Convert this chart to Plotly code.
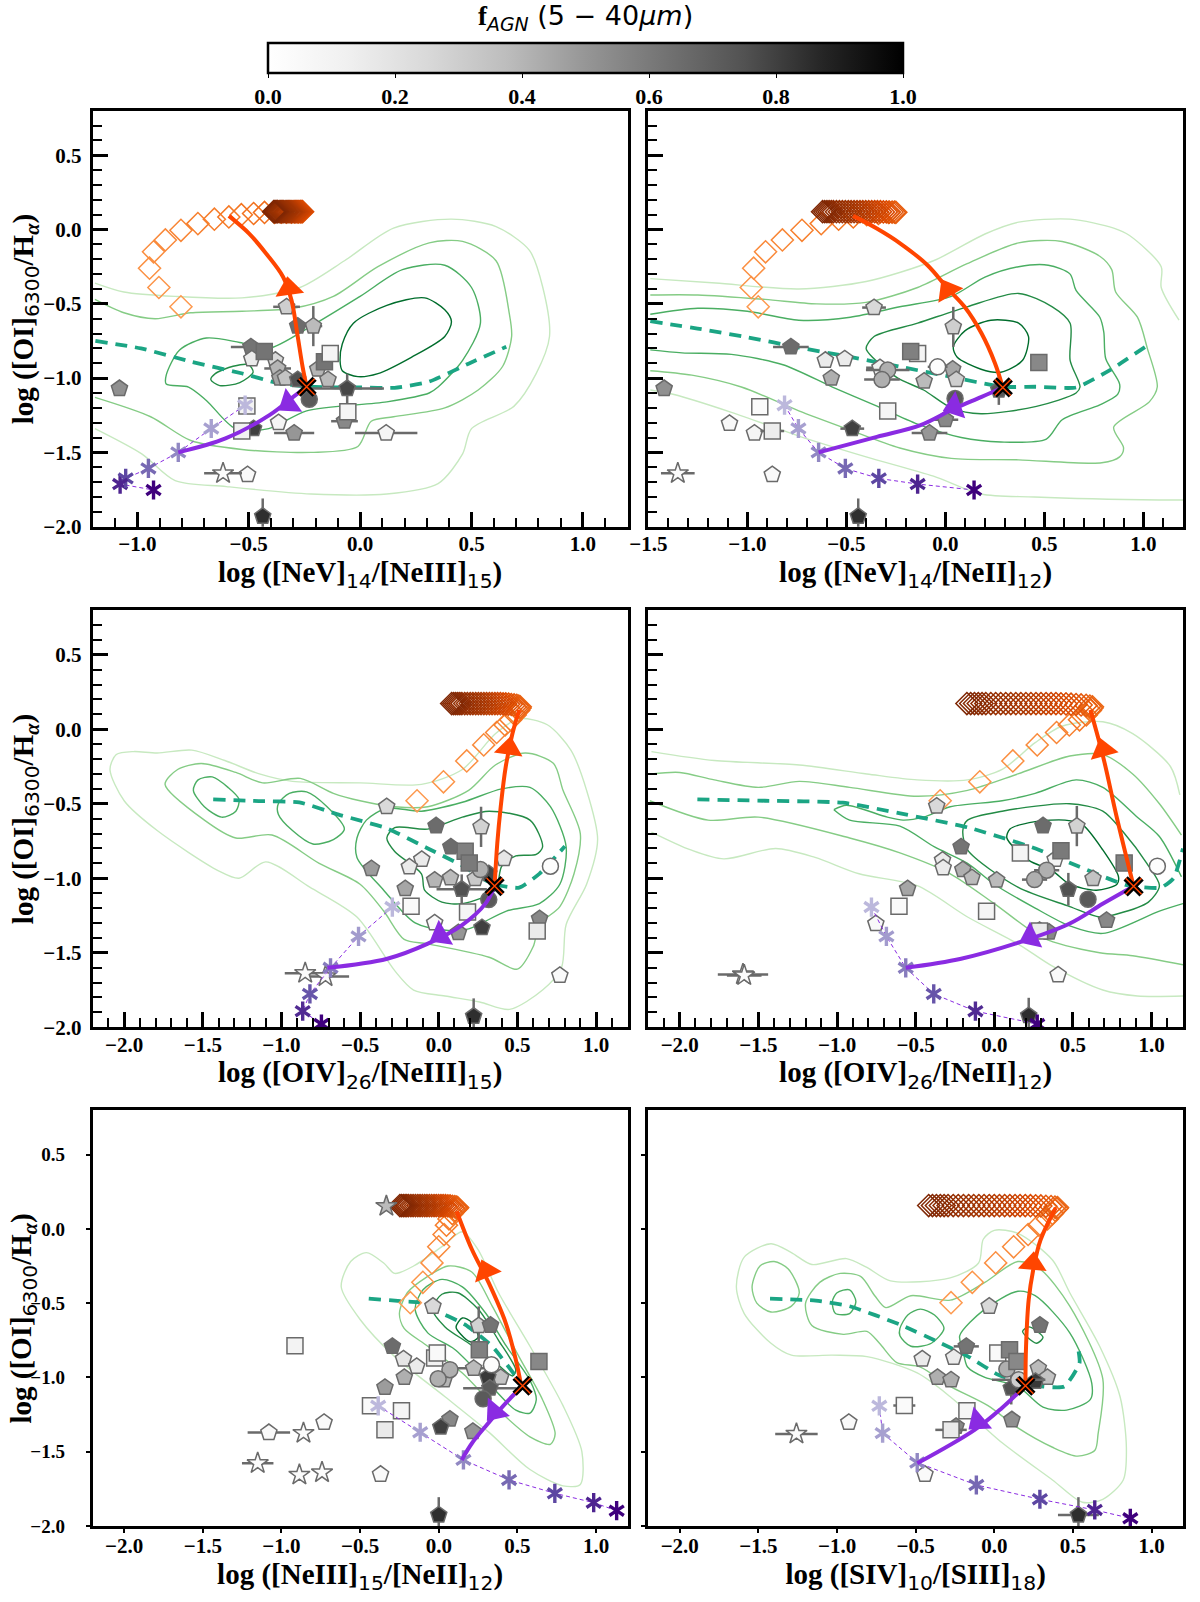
import plotly.graph_objects as go
from plotly.subplots import make_subplots

# ---- diamonds (model track), same y inside a row
dia_y_row1 = [-.52,-.39,-.26,-.15,-.07,-.005,.04,.07,.085,.1,.108,.115,.116,.117,.118,.118,.119,.119,.12,.12,.12,.12,.12,.12,.12,.12,.12,.12,.12,.12,.12,.12,.12,.12,.12,.12,.12,.12,.12,.12,.12,.12,.12,.12,.12,.12,.12]
dia_y_row2 = [-.48,-.353,-.213,-.105,-.022,.029,.063,.096,.126,.141,.15,.155,.16,.163,.166,.168,.17,.171,.172,.172,.172,.172,.172,.172,.172,.172,.172,.172,.172,.172,.172,.172,.172,.172,.172,.172,.172,.172]
dia_y_row3 = [-.497,-.36,-.229,-.121,-.038,.025,.067,.103,.126,.137,.143,.147,.15,.152,.154,.155,.156,.157,.157,.157,.157,.157,.157,.157,.157,.157,.157,.157,.157,.157,.157,.157,.157,.157,.157,.157,.157,.157]
p1_dia_x = [-.804,-.903,-.945,-.927,-.874,-.804,-.728,-.654,-.589,-.533,-.478,-.429,-.384,-.354,-.331,-.308,-.293,-.278,-.267,-.258,-.261,-.265,-.27,-.275,-.28,-.285,-.29,-.296,-.301,-.306,-.311,-.316,-.322,-.327,-.332,-.337,-.343,-.348,-.353,-.358,-.363,-.369,-.372,-.376,-.38,-.384,-.388]
p2_dia_x = [-.945,-.98,-.968,-.908,-.823,-.724,-.627,-.539,-.465,-.397,-.338,-.287,-.25,-.257,-.269,-.283,-.298,-.313,-.328,-.343,-.357,-.372,-.387,-.402,-.417,-.431,-.446,-.461,-.476,-.49,-.505,-.52,-.535,-.55,-.565,-.576,-.587,-.598,-.609,-.62]
p3_dia_x = [-.138,.03,.178,.286,.368,.422,.458,.486,.508,.516,.518,.509,.496,.479,.461,.444,.426,.409,.392,.374,.357,.339,.322,.304,.287,.269,.252,.235,.217,.2,.182,.165,.147,.134,.121,.108,.095,.082]
p4_dia_x = [-.344,-.092,.118,.273,.396,.477,.542,.585,.611,.62,.624,.608,.584,.552,.52,.488,.456,.424,.392,.361,.329,.297,.265,.233,.201,.169,.137,.105,.073,.041,.009,-.022,-.054,-.078,-.102,-.126,-.15,-.174]
p5_dia_x = [-.181,-.101,-.043,0,.034,.049,.065,.086,.103,.115,.12,.113,.102,.087,.072,.058,.043,.028,.014,-.001,-.016,-.03,-.045,-.06,-.075,-.089,-.104,-.119,-.133,-.148,-.163,-.177,-.192,-.203,-.214,-.225,-.236,-.247]
p6_dia_x = [-.275,-.14,.009,.123,.215,.284,.338,.37,.387,.398,.402,.386,.361,.328,.296,.263,.23,.197,.164,.132,.099,.066,.033,0,-.032,-.065,-.098,-.131,-.163,-.196,-.229,-.261,-.294,-.319,-.343,-.368,-.393,-.417]

# ---- purple asterisks
p1_ast_x = [-.516,-.668,-.816,-.95,-1.052,-1.077,-.927]
p1_ast_y = [-1.182,-1.339,-1.5,-1.608,-1.675,-1.713,-1.753]
p2_ast_x = [-.812,-.742,-.64,-.505,-.336,-.14,.145]
p2_ast_y = [-1.182,-1.339,-1.5,-1.608,-1.675,-1.713,-1.753]
p3_ast_x = [-.295,-.51,-.688,-.819,-.865,-.746]
p3_ast_y = [-1.193,-1.39,-1.601,-1.776,-1.892,-1.978]
p4_ast_x = [-.781,-.686,-.563,-.385,-.12,.273]
p4_ast_y = [-1.193,-1.39,-1.601,-1.776,-1.892,-1.978]
p5_ast_x = [-.385,-.118,.157,.447,.738,.985,1.131]
p5_ast_y = [-1.191,-1.369,-1.555,-1.69,-1.78,-1.843,-1.897]
p6_ast_x = [-.731,-.71,-.49,-.114,.29,.639,.865]
p6_ast_y = [-1.191,-1.375,-1.573,-1.724,-1.82,-1.892,-1.948]

# ---- arrows: orange up, purple down, head positions and angle
p1_or_x = [-.24,-.258,-.282,-.308,-.346,-.422,-.498,-.589]
p1_or_y = [-1.058,-.924,-.7,-.475,-.318,-.161,-.027,.092]
p1_pu_x = [-.24,-.3,-.407,-.604,-.816]
p1_pu_y = [-1.058,-1.126,-1.249,-1.406,-1.5]
p2_or_x = [.29,.251,.183,.097,.012,-.09,-.227,-.346,-.466]
p2_or_y = [-1.063,-.901,-.7,-.52,-.397,-.24,-.094,.007,.092]
p2_pu_x = [.29,.183,.046,-.125,-.346,-.64]
p2_pu_y = [-1.063,-1.126,-1.204,-1.316,-1.395,-1.5]
p3_or_x = [.355,.372,.394,.426,.469,.512]
p3_or_y = [-1.052,-.767,-.52,-.251,-.027,.13]
p3_pu_x = [.355,.297,.146,-.069,-.327,-.708]
p3_pu_y = [-1.052,-1.17,-1.316,-1.439,-1.54,-1.601]
p4_or_x = [.886,.778,.692,.611]
p4_or_y = [-1.054,-.587,-.184,.13]
p4_pu_x = [.886,.692,.477,.133,-.211,-.563]
p4_pu_y = [-1.054,-1.17,-1.305,-1.439,-1.54,-1.601]
p5_or_x = [.523,.49,.426,.318,.211,.114]
p5_or_y = [-1.049,-.881,-.634,-.364,-.139,.119]
p5_pu_x = [.533,.426,.297,.211,.146]
p5_pu_y = [-1.056,-1.173,-1.33,-1.443,-1.555]
p6_or_x = [.198,.202,.219,.252,.295,.391]
p6_or_y = [-1.056,-.791,-.476,-.252,-.072,.142]
p6_pu_x = [.198,.047,-.125,-.49]
p6_pu_y = [-1.056,-1.207,-1.353,-1.578]

# (x, y, angle) of arrow heads
p1_heads = [(-.319,-.397,-8), (-.32,-1.17,-125)]
p2_heads = [(.012,-.408,-30), (.046,-1.193,-110)]
p3_heads = [(.447,-.128,8), (.011,-1.383,-120)]
p4_heads = [(.692,-.139,-15), (.23,-1.395,-115)]
p5_heads = [(.301,-.285,-22), (.357,-1.229,-140)]
p6_heads = [(.245,-.234,5), (-.103,-1.297,-130)]

# start of both arrows
p1_cross = (-.24,-1.058)
p2_cross = (.29,-1.063)
p3_cross = (.355,-1.052)
p4_cross = (.886,-1.054)
p5_cross = (.533,-1.056)
p6_cross = (.198,-1.056)

# ---- teal dashed sequence
p1_teal_x = [-1.188,-.983,-.756,-.528,-.376,-.225,.003,.155,.307,.489,.656]
p1_teal_y = [-.749,-.8,-.89,-.969,-1.031,-1.058,-1.063,-1.065,-1.025,-.901,-.789]
p2_teal_x = [-1.49,-1.251,-.995,-.739,-.483,-.227,.029,.285,.456,.66,.831,1.01]
p2_teal_y = [-.617,-.666,-.726,-.794,-.857,-.924,-.991,-1.058,-1.058,-1.063,-.946,-.789]
p3_teal_x = [-1.434,-1.144,-.886,-.628,-.327,-.069,.146,.34,.512,.641,.802]
p3_teal_y = [-.471,-.482,-.491,-.576,-.666,-.8,-.913,-1.036,-1.063,-.969,-.785]
p4_teal_x = [-1.888,-1.458,-.963,-.598,-.168,.262,.542,.843,1.058,1.14,1.2]
p4_teal_y = [-.471,-.48,-.493,-.565,-.659,-.8,-.923,-1.047,-1.063,-1.0,-.8]
p5_teal_x = [-.445,-.219,-.133,.039,.168,.34,.49,.533]
p5_teal_y = [-.47,-.488,-.494,-.578,-.645,-.791,-.993,-1.056]
p6_teal_x = [-1.426,-1.135,-.92,-.598,-.34,-.168,.026,.262,.445,.542,.531]
p6_teal_y = [-.47,-.483,-.521,-.645,-.769,-.858,-.982,-1.056,-1.061,-.903,-.791]

# ---- density contours, None breaks a line
p1_c1_x = [-1.19,-1.06,-.83,-.53,-.27,-.07,.15,.41,.61,.76,.82,.85,.79,.69,.5,.46,.35,.12,-.22,-.6,-.83,-.98,-1.19]
p1_c1_y = [-.36,-.42,-.45,-.46,-.39,-.21,.01,.07,.02,-.14,-.39,-.72,-.97,-1.19,-1.34,-1.51,-1.71,-1.78,-1.78,-1.73,-1.69,-1.51,-1.34]
p1_c2_x = [-1.19,-1.06,-.92,-.76,-.53,-.3,-.12,.08,.31,.46,.61,.67,.68,.64,.53,.38,.15,.05,-.01,-.22,-.53,-.76,-.94,-1.19]
p1_c2_y = [-.47,-.56,-.6,-.56,-.55,-.53,-.45,-.25,-.09,-.08,-.21,-.57,-.72,-.92,-1.08,-1.2,-1.26,-1.29,-1.46,-1.5,-1.48,-1.42,-1.26,-1.13]
p1_c3_x = [-.87,-.81,-.69,-.54,-.41,-.22,0,.19,.38,.5,.54,.46,.35,.31,.12,-.24,-.41,-.56,-.69,-.77,-.87,-.87]
p1_c3_y = [-.98,-.81,-.73,-.76,-.8,-.65,-.45,-.27,-.24,-.39,-.63,-.88,-1.06,-1.1,-1.16,-1.22,-1.34,-1.34,-1.15,-1.06,-1.04,-.98]
p1_c4_x = [-.67,-.65,-.57,-.5,-.48,-.54,-.63,-.67]
p1_c4_y = [-1.01,-.97,-.92,-.91,-.96,-1.03,-1.05,-1.01]
p1_c5_x = [-.09,-.08,-.03,.12,.29,.38,.41,.38,.23,.08,-.01,-.08,-.09]
p1_c5_y = [-.88,-.77,-.63,-.51,-.46,-.54,-.62,-.72,-.86,-.97,-.99,-.95,-.88]

p2_c1_x = [-1.49,-1.16,-.74,-.4,-.06,.2,.37,.63,.85,.93,1.09,1.09,1.18,None,-1.49,-1.37,-1.08,-.74,-.4,-.06,.18,.45,1.08,1.2]
p2_c1_y = [-.33,-.36,-.4,-.35,-.21,-.03,.05,.07,.01,-.04,-.25,-.39,-.61,None,-1.08,-1.11,-1.23,-1.39,-1.53,-1.66,-1.78,-1.8,-1.82,-1.82]
p2_c2_x = [-1.49,-1.25,-.91,-.65,-.4,-.14,.11,.37,.59,.78,.84,.86,.97,1.02,1.07,1.03,.85,.9,.88,.79,.37,.03,-.23,-.5,-.74,-1.03,-1.28,-1.49]
p2_c2_y = [-.44,-.44,-.47,-.5,-.49,-.39,-.23,-.09,-.08,-.18,-.27,-.42,-.59,-.8,-1.06,-1.16,-1.33,-1.47,-1.53,-1.57,-1.55,-1.54,-1.47,-1.34,-1.22,-1.06,-.98,-.95]
p2_c3_x = [-1.49,-1.25,-1,-.74,-.48,-.23,.03,.2,.37,.52,.63,.66,.78,.8,.81,.88,.87,.78,.59,.51,.28,.08,-.14,-.36,-.57,-.82,-1.08,-1.33,-1.49]
p2_c3_y = [-.57,-.53,-.55,-.61,-.59,-.52,-.45,-.32,-.25,-.24,-.3,-.41,-.59,-.69,-.87,-1.04,-1.11,-1.18,-1.28,-1.41,-1.43,-1.4,-1.31,-1.18,-1.06,-.91,-.84,-.83,-.81]
p2_c4_x = [-.4,-.36,-.14,.11,.37,.54,.63,.63,.68,.66,.46,.18,.03,-.11,-.24,-.36,-.4]
p2_c4_y = [-.8,-.72,-.63,-.52,-.43,-.52,-.63,-.88,-1.06,-1.1,-1.19,-1.24,-1.2,-1.08,-1,-.87,-.8]
p2_c5_x = [.04,.1,.23,.37,.42,.39,.28,.18,.06,.04]
p2_c5_y = [-.79,-.68,-.61,-.63,-.72,-.88,-.96,-.94,-.86,-.79]

p3_c1_x = [-2.09,-2.05,-1.94,-1.79,-1.57,-1.36,-1.14,-.93,-.5,-.11,.15,.36,.51,.69,.84,.94,1.01,.94,.81,.78,.66,.45,.26,.04,-.16,-.28,-.52,-.82,-1.1,-1.27,-1.4,-1.79,-2,-2.09]
p3_c1_y = [-.27,-.17,-.15,-.16,-.14,-.21,-.3,-.35,-.36,-.37,-.27,-.03,.07,.03,-.14,-.41,-.74,-1.04,-1.31,-1.6,-1.75,-1.88,-1.83,-1.79,-1.75,-1.62,-1.26,-1.06,-.89,-1,-.95,-.68,-.48,-.27]
p3_c2_x = [-1.74,-1.66,-1.51,-1.29,-1.12,-.88,-.67,-.5,-.28,-.07,.19,.36,.55,.73,.79,.9,.86,.77,.64,.6,.5,.32,-.07,-.22,-.35,-.5,-.76,-1.06,-1.29,-1.49,-1.74]
p3_c2_y = [-.37,-.27,-.23,-.29,-.36,-.33,-.43,-.48,-.52,-.52,-.41,-.24,-.16,-.23,-.41,-.7,-.97,-1.19,-1.31,-1.46,-1.61,-1.53,-1.44,-1.41,-1.22,-1.04,-.9,-.71,-.73,-.61,-.37]
p3_c3_x = [-1.56,-1.53,-1.44,-1.34,-1.27,-1.29,-1.38,-1.49,-1.56,None,-1.02,-.95,-.84,-.71,-.6,-.67,-.8,-.93,-1.02,-1.02,None,-.52,-.46,-.33,-.11,.15,.4,.58,.71,.81,.77,.64,.43,.19,.06,-.15,-.35,-.52,-.52]
p3_c3_y = [-.41,-.34,-.32,-.39,-.47,-.55,-.59,-.52,-.41,None,-.5,-.43,-.42,-.52,-.67,-.74,-.77,-.68,-.57,-.5,None,-.73,-.61,-.53,-.55,-.49,-.4,-.39,-.52,-.79,-1.04,-1.17,-1.22,-1.34,-1.35,-1.3,-1.08,-.86,-.73]
p3_c4_x = [-.33,-.28,-.07,.15,.32,.58,.66,.62,.49,.4,.36,.15,.02,-.09,-.11,-.28,-.33]
p3_c4_y = [-.73,-.66,-.67,-.59,-.55,-.61,-.79,-.84,-.85,-.92,-1.08,-1.17,-1.16,-1.08,-.97,-.82,-.73]

p4_c1_x = [-2.18,-1.78,-1.24,-.81,-.49,-.17,.05,.26,.43,.69,.88,1.12,1.18,None,-2.18,-1.93,-1.72,-1.39,-1.14,-.86,-.49,-.17,.15,.37,.69,.91,1.2]
p4_c1_y = [-.15,-.21,-.24,-.3,-.34,-.34,-.27,-.09,.02,.05,-.03,-.25,-.44,None,-.69,-.81,-.87,-.8,-.86,-.97,-1.05,-1.26,-1.44,-1.59,-1.75,-1.79,-1.79]
p4_c2_x = [-2.18,-2,-1.78,-1.5,-1.24,-.92,-.49,-.17,.15,.48,.69,.88,1.05,1.19,None,1.2,.88,.67,.31,0,-.28,-.6,-.92,-1.5,-1.82,-2.19]
p4_c2_y = [-.3,-.29,-.34,-.39,-.35,-.39,-.45,-.41,-.3,-.18,-.17,-.3,-.5,-.71,None,-1.58,-1.52,-1.5,-1.4,-1.17,-.97,-.83,-.73,-.59,-.61,-.48]
p4_c3_x = [-1.02,-.94,-.68,-.58,-.45,-.28,.05,.26,.52,.69,.91,1.05,1.19,None,1.2,1.05,.69,.48,.26,0,-.17,-.38,-.6,-.92,-1.02]
p4_c3_y = [-.54,-.51,-.59,-.61,-.59,-.52,-.48,-.43,-.34,-.39,-.59,-.72,-.99,None,-1.17,-1.22,-1.37,-1.32,-1.2,-1.04,-.9,-.79,-.65,-.61,-.54]
p4_c4_x = [-.2,-.17,.05,.48,.69,.82,.97,1.05,.98,.78,.67,.48,.15,-.17,-.2]
p4_c4_y = [-.68,-.61,-.55,-.5,-.55,-.69,-.9,-1.05,-1.16,-1.24,-1.26,-1.19,-1.06,-.81,-.68]
p4_c5_x = [.08,.1,.26,.45,.56,.69,.79,.78,.65,.48,.37,.22,.08]
p4_c5_y = [-.73,-.67,-.62,-.61,-.64,-.81,-.99,-1.04,-1.08,-1.04,-.95,-.88,-.73]

p5_c1_x = [-.62,-.56,-.46,-.35,-.28,-.16,.02,.15,.25,.38,.58,.79,.91,.9,.79,.58,.32,.04,-.28,-.5,-.62]
p5_c1_y = [-.39,-.22,-.16,-.23,-.3,-.25,-.12,-.02,-.14,-.43,-.79,-1.19,-1.5,-1.72,-1.73,-1.62,-1.37,-1.13,-.86,-.61,-.39]
p5_c2_x = [-.25,-.2,-.07,.06,.21,.34,.51,.66,.74,.71,.58,.36,.15,-.07,-.22,-.25]
p5_c2_y = [-.57,-.43,-.32,-.25,-.29,-.52,-.86,-1.15,-1.38,-1.45,-1.4,-1.2,-.97,-.79,-.67,-.57]
p5_c3_x = [-.15,-.1,.02,.15,.3,.43,.58,.62,.58,.49,.3,.1,-.07,-.15]
p5_c3_y = [-.54,-.41,-.34,-.39,-.57,-.79,-1.02,-1.15,-1.24,-1.22,-1.02,-.81,-.7,-.54]
p5_c4_x = [-.04,.02,.12,.25,.38,.49,.47,.36,.19,.04,-.04]
p5_c4_y = [-.54,-.44,-.43,-.54,-.75,-.95,-.99,-.9,-.77,-.66,-.54]
p5_c5_x = [.11,.15,.21,.25,.2,.14,.11]
p5_c5_y = [-.66,-.6,-.63,-.73,-.76,-.71,-.66]

p6_c1_x = [-1.64,-1.59,-1.42,-1.29,-1.16,-.94,-.81,-.66,-.28,-.1,-.07,0,.15,.37,.48,.67,.8,.84,.82,.69,.56,.37,.05,-.28,-.49,-.81,-1.03,-1.29,-1.42,-1.59,-1.64]
p6_c1_y = [-.39,-.19,-.1,-.16,-.24,-.2,-.26,-.35,-.33,-.23,-.07,-.01,-.03,-.21,-.43,-.79,-1.13,-1.47,-1.69,-1.82,-1.84,-1.69,-1.44,-1.13,-.97,-.86,-.85,-.85,-.77,-.57,-.39]
p6_c2_x = [-1.54,-1.49,-1.4,-1.31,-1.24,-1.29,-1.42,-1.51,-1.54,None,-1.2,-1.11,-.98,-.85,-.76,-.69,-.53,-.28,-.06,.15,.29,.48,.69,.66,.64,.53,.37,.15,-.04,-.28,-.47,-.62,-.73,-.81,-.96,-1.16,-1.2]
p6_c2_y = [-.39,-.25,-.22,-.27,-.43,-.52,-.56,-.5,-.39,None,-.5,-.36,-.3,-.32,-.45,-.53,-.45,-.48,-.36,-.22,-.27,-.52,-1.01,-1.38,-1.49,-1.53,-1.47,-1.34,-1.19,-1.06,-.93,-.9,-.77,-.69,-.71,-.65,-.5]
p6_c3_x = [-1.03,-1,-.92,-.88,-.92,-1.01,-1.03,None,-.6,-.55,-.47,-.38,-.32,-.4,-.53,-.6,-.6,None,-.22,-.06,.15,.26,.48,.62,.61,.46,.31,.15,-.06,-.17,-.2,-.22]
p6_c3_y = [-.49,-.43,-.41,-.49,-.57,-.57,-.49,None,-.67,-.58,-.54,-.58,-.67,-.77,-.79,-.72,-.67,None,-.72,-.54,-.42,-.45,-.7,-1.04,-1.15,-1.22,-1.2,-1.06,-1,-.93,-.81,-.72]
p6_c4_x = [.18,.22,.31,.27,.21,.18]
p6_c4_y = [-.69,-.66,-.73,-.77,-.73,-.69]

# ---- galaxies: x, y, fAGN, xerr, yerr for every symbol
p1_pent_x = [-1.08,-.33,-.21,-.28,-.49,-.486,-.38,-.37,-.36,-.335,-.28,-.19,-.144,-.058,-.07,-.478,-.366,-.296,.117,-.505,-.437]
p1_pent_y = [-1.07,-.52,-.65,-.65,-.79,-.87,-.88,-.935,-1,-1,-1.01,-.94,-1.01,-1.07,-1.29,-1.34,-1.3,-1.37,-1.37,-1.65,-1.93]
p1_pent_f = [.52,.3,.38,.65,.62,.15,.25,.4,.45,.35,.75,.4,.38,.78,.55,.8,.08,.5,.08,.05,.85]
p1_pent_ex = [0,.06,.04,0,.09,0,0,.06,0,0,0,0,0,.165,.06,0,0,.09,.14,0,0]
p1_pent_ey = [0,0,.135,0,0,0,0,0,0,0,0,0,0,.1,0,0,0,0,0,0,.12]
p1_sq_x = [-.43,-.16,-.134,-.055,-.508,-.531]
p1_sq_y = [-.82,-.89,-.834,-1.226,-1.188,-1.356]
p1_sq_f = [.62,.62,.08,.08,.1,.12]
p1_circ_x = [-.228]
p1_circ_y = [-1.143]
p1_circ_f = [.72]
p1_star_x = [-.615]
p1_star_y = [-1.641]
p1_star_f = [.03]
p1_star_ex = [.085]

p2_pent_x = [-1.42,-.36,.04,-.78,-.606,-.508,-.576,-.33,-.107,.037,.055,.27,0,-.08,-.47,-1.09,-.964,-.874,-.44]
p2_pent_y = [-1.07,-.525,-.655,-.79,-.88,-.87,-1,-.93,-1.02,-.94,-1.01,-1.08,-1.28,-1.37,-1.34,-1.305,-1.37,-1.65,-1.93]
p2_pent_f = [.52,.25,.3,.65,.15,.15,.42,.12,.38,.45,.3,.72,.55,.5,.8,.06,.08,.05,.85]
p2_pent_ex = [0,.06,0,.09,0,0,0,.07,0,0,0,0,.065,.09,.06,0,.03,0,0]
p2_pent_ey = [0,0,.135,0,0,0,0,0,0,0,0,.1,0,0,0,0,0,0,.12]
p2_sq_x = [-.14,-.175,.472,-.937,-.874,-.291]
p2_sq_y = [-.834,-.82,-.895,-1.193,-1.356,-1.222]
p2_sq_f = [.08,.58,.55,.04,.14,.08]
p2_sq_ex = [0,0,0,0,.06,0]
p2_circ_x = [-.039,-.291,-.32,.049]
p2_circ_y = [-.924,-.946,-1.01,-1.137]
p2_circ_f = [.02,.42,.42,.72]
p2_circ_ex = [.05,.11,.09,0]
p2_star_x = [-1.351]
p2_star_y = [-1.641]
p2_star_f = [.03]
p2_star_ex = [.085]

p3_pent_x = [-.331,.269,-.017,.077,-.108,-.187,-.428,.415,-.026,.075,.232,.318,.146,-.213,-.026,.125,.275,.641,.77,.222]
p3_pent_y = [-.52,-.655,-.648,-.79,-.874,-.924,-.935,-.868,-1.013,-.998,-1.002,-.969,-1.074,-1.07,-1.3,-1.365,-1.332,-1.271,-1.652,-1.926]
p3_pent_f = [.25,.28,.65,.65,.15,.15,.48,.18,.4,.38,.32,.78,.75,.45,.05,.5,.8,.55,.05,.85]
p3_pent_ex = [0,0,0,0,0,0,0,0,0,0,0,0,.16,0,0,0,0,0,0,0]
p3_pent_ey = [0,.135,0,0,0,0,0,0,0,0,0,0,.1,0,0,0,0,0,0,.12]
p3_sq_x = [.168,.194,-.176,.183,.626]
p3_sq_y = [-.818,-.897,-1.188,-1.226,-1.354]
p3_sq_f = [.58,.6,.04,.08,.15]
p3_circ_x = [.71,.265,.318]
p3_circ_y = [-.919,-.942,-1.143]
p3_circ_f = [.02,.42,.72]
p3_star_x = [-.849,-.72]
p3_star_y = [-1.637,-1.659]
p3_star_f = [.03,.03]
p3_star_ex = [.13,.15]

p4_pent_x = [-.366,.525,.31,-.211,-.329,-.325,-.2,-.142,.015,.628,.387,.471,-.551,.714,.288,.348,-.753,.406,.219]
p4_pent_y = [-.516,-.65,-.648,-.789,-.879,-.93,-.942,-.996,-1.013,-1.002,-.874,-1.074,-1.07,-1.283,-1.35,-1.361,-1.305,-1.648,-1.922]
p4_pent_f = [.25,.28,.65,.62,.15,.15,.42,.38,.38,.35,.1,.75,.45,.55,.42,.55,.05,.05,.85]
p4_pent_ey = [0,.135,0,0,0,0,0,0,0,0,0,.11,0,0,0,0,0,0,.12]
p4_sq_x = [.424,.166,.826,-.606,-.049,.288]
p4_sq_y = [-.816,-.83,-.897,-1.188,-1.222,-1.354]
p4_sq_f = [.6,.08,.58,.04,.08,.15]
p4_circ_x = [.333,.256,.596,1.037]
p4_circ_y = [-.946,-1.009,-1.141,-.919]
p4_circ_f = [.42,.42,.72,.02]
p4_circ_ex = [.08,.08,0,0]
p4_star_x = [-1.598,-1.59]
p4_star_y = [-1.646,-1.652]
p4_star_f = [.03,.03]
p4_star_ex = [.16,.11]

p5_pent_x = [-.037,.254,.329,-.295,-.224,-.14,-.219,-.342,.222,.394,.034,.312,.325,.071,.013,.217,-.729,-1.08,-.37,0]
p5_pent_y = [-.521,-.652,-.649,-.791,-.876,-.926,-1,-1.067,-.939,-1,-1.016,-.998,-1.072,-1.281,-1.335,-1.364,-1.303,-1.371,-1.652,-1.926]
p5_pent_f = [.25,.28,.62,.65,.18,.15,.42,.48,.38,.35,.4,.82,.72,.55,.8,.5,.05,.05,.04,.85]
p5_pent_ex = [.03,0,0,0,0,0,0,0,.16,0,0,0,.17,0,0,0,0,.135,0,0]
p5_pent_ey = [0,.13,0,0,0,0,0,0,0,0,0,0,0,0,0,0,0,0,0,.12]
p5_sq_x = [.258,-.914,-.026,-.009,.637,-.434,-.237,-.342]
p5_sq_y = [-.813,-.787,-.87,-.836,-.892,-1.191,-1.225,-1.353]
p5_sq_f = [.58,.1,.1,.05,.55,.04,.08,.16]
p5_circ_x = [.335,.071,-.004,.282]
p5_circ_y = [-.915,-.948,-1.009,-1.144]
p5_circ_f = [.02,.42,.42,.72]
p5_star_x = [-.333,-.86,-1.151,-.886,-.742]
p5_star_y = [.153,-1.375,-1.578,-1.656,-1.64]
p5_star_f = [.38,.03,.03,.03,.03]
p5_star_ex = [0,0,.1,0,0]

p6_pent_x = [-.032,.29,-.178,-.458,-.258,-.361,-.275,.28,.338,.108,.262,.112,-.243,-.925,-.441,.535]
p6_pent_y = [-.521,-.649,-.791,-.876,-.865,-1,-1.016,-.937,-1,-1.072,-1.027,-1.285,-1.33,-1.303,-1.652,-1.926]
p6_pent_f = [.25,.62,.62,.15,.15,.42,.42,.38,.35,.75,.82,.52,.55,.05,.04,.85]
p6_pent_ex = [0,0,.08,0,0,0,.03,0,0,0,0,0,0,0,0,.13]
p6_pent_ey = [0,0,0,0,0,0,0,0,0,.11,0,0,0,0,0,.12]
p6_sq_x = [.022,.097,.144,-.572,-.174,-.275]
p6_sq_y = [-.836,-.813,-.892,-1.189,-1.225,-1.353]
p6_sq_f = [.05,.58,.55,.04,.08,.16]
p6_sq_ex = [0,0,0,.07,0,.1]
p6_circ_x = [.08,.155]
p6_circ_y = [-.944,-1.016]
p6_circ_f = [.42,.3]
p6_circ_ex = [0,.17]
p6_star_x = [-1.258]
p6_star_y = [-1.38]
p6_star_f = [.03]
p6_star_ex = [.135]

colorbar_ticks = [0.0, 0.2, 0.4, 0.6, 0.8, 1.0]

LEVEL_COLORS = ['#c7e9c0', '#85cc85', '#4aae62', '#238b45', '#006d2c']
GREYS = [[0,'#ffffff'],[.125,'#f0f0f0'],[.25,'#d9d9d9'],[.375,'#bdbdbd'],[.5,'#969696'],[.625,'#737373'],[.75,'#525252'],[.875,'#252525'],[1,'#000000']]
ORANGES = [[0,'#fd9a50'],[.2,'#f4741f'],[.45,'#d94801'],[.7,'#a63603'],[1,'#7f2704']]
PURPLES = [[0,'#bcb8dc'],[.35,'#8f86c2'],[.65,'#5f4ba4'],[1,'#3f007d']]

SERIF = 'Liberation Serif'
SANS = 'DejaVu Sans'


def sub(t):
    # subscripts in the reference are upright sans, the rest is bold serif
    return f'<sub><span style="font-family:{SANS};font-weight:normal">{t}</span></sub>'


YLABEL = f'<b>log ([OI]{sub("6300")}/H<sub><i>α</i></sub>)</b>'

panels = [
    dict(row=1, col=1, xr=[-1.2,1.2], label=f'log ([NeV]{sub("14")}/[NeIII]{sub("15")})', dia=(p1_dia_x,dia_y_row1), ast=(p1_ast_x,p1_ast_y),
         orange=(p1_or_x,p1_or_y), purple=(p1_pu_x,p1_pu_y), heads=p1_heads, cross=p1_cross, teal=(p1_teal_x,p1_teal_y),
         contours=[(0,p1_c1_x,p1_c1_y),(1,p1_c2_x,p1_c2_y),(2,p1_c3_x,p1_c3_y),(3,p1_c4_x,p1_c4_y),(4,p1_c5_x,p1_c5_y)],
         pent=(p1_pent_x,p1_pent_y,p1_pent_f,p1_pent_ex,p1_pent_ey), sq=(p1_sq_x,p1_sq_y,p1_sq_f,None), circ=(p1_circ_x,p1_circ_y,p1_circ_f,None), star=(p1_star_x,p1_star_y,p1_star_f,p1_star_ex)),
    dict(row=1, col=2, xr=[-1.5,1.2], label=f'log ([NeV]{sub("14")}/[NeII]{sub("12")})', dia=(p2_dia_x,dia_y_row1), ast=(p2_ast_x,p2_ast_y),
         orange=(p2_or_x,p2_or_y), purple=(p2_pu_x,p2_pu_y), heads=p2_heads, cross=p2_cross, teal=(p2_teal_x,p2_teal_y),
         contours=[(0,p2_c1_x,p2_c1_y),(1,p2_c2_x,p2_c2_y),(2,p2_c3_x,p2_c3_y),(3,p2_c4_x,p2_c4_y),(4,p2_c5_x,p2_c5_y)],
         pent=(p2_pent_x,p2_pent_y,p2_pent_f,p2_pent_ex,p2_pent_ey), sq=(p2_sq_x,p2_sq_y,p2_sq_f,p2_sq_ex), circ=(p2_circ_x,p2_circ_y,p2_circ_f,p2_circ_ex), star=(p2_star_x,p2_star_y,p2_star_f,p2_star_ex)),
    dict(row=2, col=1, xr=[-2.2,1.2], label=f'log ([OIV]{sub("26")}/[NeIII]{sub("15")})', dia=(p3_dia_x,dia_y_row2), ast=(p3_ast_x,p3_ast_y),
         orange=(p3_or_x,p3_or_y), purple=(p3_pu_x,p3_pu_y), heads=p3_heads, cross=p3_cross, teal=(p3_teal_x,p3_teal_y),
         contours=[(0,p3_c1_x,p3_c1_y),(1,p3_c2_x,p3_c2_y),(2,p3_c3_x,p3_c3_y),(3,p3_c4_x,p3_c4_y)],
         pent=(p3_pent_x,p3_pent_y,p3_pent_f,p3_pent_ex,p3_pent_ey), sq=(p3_sq_x,p3_sq_y,p3_sq_f,None), circ=(p3_circ_x,p3_circ_y,p3_circ_f,None), star=(p3_star_x,p3_star_y,p3_star_f,p3_star_ex)),
    dict(row=2, col=2, xr=[-2.2,1.2], label=f'log ([OIV]{sub("26")}/[NeII]{sub("12")})', dia=(p4_dia_x,dia_y_row2), ast=(p4_ast_x,p4_ast_y),
         orange=(p4_or_x,p4_or_y), purple=(p4_pu_x,p4_pu_y), heads=p4_heads, cross=p4_cross, teal=(p4_teal_x,p4_teal_y),
         contours=[(0,p4_c1_x,p4_c1_y),(1,p4_c2_x,p4_c2_y),(2,p4_c3_x,p4_c3_y),(3,p4_c4_x,p4_c4_y),(4,p4_c5_x,p4_c5_y)],
         pent=(p4_pent_x,p4_pent_y,p4_pent_f,None,p4_pent_ey), sq=(p4_sq_x,p4_sq_y,p4_sq_f,None), circ=(p4_circ_x,p4_circ_y,p4_circ_f,p4_circ_ex), star=(p4_star_x,p4_star_y,p4_star_f,p4_star_ex)),
    dict(row=3, col=1, xr=[-2.2,1.2], label=f'log ([NeIII]{sub("15")}/[NeII]{sub("12")})', dia=(p5_dia_x,dia_y_row3), ast=(p5_ast_x,p5_ast_y),
         orange=(p5_or_x,p5_or_y), purple=(p5_pu_x,p5_pu_y), heads=p5_heads, cross=p5_cross, teal=(p5_teal_x,p5_teal_y),
         contours=[(0,p5_c1_x,p5_c1_y),(1,p5_c2_x,p5_c2_y),(2,p5_c3_x,p5_c3_y),(3,p5_c4_x,p5_c4_y),(4,p5_c5_x,p5_c5_y)],
         pent=(p5_pent_x,p5_pent_y,p5_pent_f,p5_pent_ex,p5_pent_ey), sq=(p5_sq_x,p5_sq_y,p5_sq_f,None), circ=(p5_circ_x,p5_circ_y,p5_circ_f,None), star=(p5_star_x,p5_star_y,p5_star_f,p5_star_ex)),
    dict(row=3, col=2, xr=[-2.2,1.2], label=f'log ([SIV]{sub("10")}/[SIII]{sub("18")})', dia=(p6_dia_x,dia_y_row3), ast=(p6_ast_x,p6_ast_y),
         orange=(p6_or_x,p6_or_y), purple=(p6_pu_x,p6_pu_y), heads=p6_heads, cross=p6_cross, teal=(p6_teal_x,p6_teal_y),
         contours=[(0,p6_c1_x,p6_c1_y),(1,p6_c2_x,p6_c2_y),(2,p6_c3_x,p6_c3_y),(3,p6_c4_x,p6_c4_y)],
         pent=(p6_pent_x,p6_pent_y,p6_pent_f,p6_pent_ex,p6_pent_ey), sq=(p6_sq_x,p6_sq_y,p6_sq_f,p6_sq_ex), circ=(p6_circ_x,p6_circ_y,p6_circ_f,p6_circ_ex), star=(p6_star_x,p6_star_y,p6_star_f,p6_star_ex)),
]

W, H = 1200, 1602
# pixel boxes of the panels
COLS = {1: (92.7, 627.5), 2: (648.3, 1183)}
ROWS = {1: (110.7, 526.7), 2: (610, 1027.3), 3: (1110, 1526)}

fig = make_subplots(rows=3, cols=2)


def err(vals, thick=2.5):
    if vals is None:
        return None
    return dict(type='data', array=vals, visible=True, color='#6a6a6a', thickness=thick, width=0)


def add_gal(x, y, f, ex, ey, symbol, size, row, col):
    fig.add_trace(go.Scatter(x=x, y=y, mode='markers', error_x=err(ex), error_y=err(ey),
                             marker=dict(symbol=symbol, size=size, color=f, coloraxis='coloraxis',
                                         line=dict(color='#6a6a6a', width=1.5))), row=row, col=col)


notes = [dict(text=f'<b><span style="font-family:{SERIF}">f</span></b><sub><i>AGN</i></sub> (5 − 40<i>μm</i>)',
              x=585/W, y=1-17/H, xref='paper', yref='paper', showarrow=False, xanchor='center', yanchor='middle',
              font=dict(family=SANS, size=27, color='black'))]

for p in panels:
    r, c = p['row'], p['col']
    for lev, cx, cy in p['contours']:
        fig.add_trace(go.Scatter(x=cx, y=cy, mode='lines', line=dict(color=LEVEL_COLORS[lev], width=1.4, shape='spline', smoothing=.8)), row=r, col=c)
    fig.add_trace(go.Scatter(x=p['teal'][0], y=p['teal'][1], mode='lines',
                             line=dict(color='#1ba584', width=3.8, dash='12px,8px', shape='spline', smoothing=.5)), row=r, col=c)
    dx = p['dia'][0]
    dy = p['dia'][1][:len(dx)]
    fig.add_trace(go.Scatter(x=dx, y=dy, mode='markers',
                             marker=dict(symbol='diamond-open', size=17, color=list(range(len(dx))), colorscale=ORANGES,
                                         showscale=False, line=dict(width=1.5))), row=r, col=c)
    add_gal(p['pent'][0], p['pent'][1], p['pent'][2], p['pent'][3], p['pent'][4], 'pentagon', 17, r, c)
    add_gal(p['circ'][0], p['circ'][1], p['circ'][2], p['circ'][3], None, 'circle', 16, r, c)
    add_gal(p['sq'][0], p['sq'][1], p['sq'][2], p['sq'][3], None, 'square', 16, r, c)
    add_gal(p['star'][0], p['star'][1], p['star'][2], p['star'][3], None, 'star', 16, r, c)
    ax, ay = p['ast']
    fig.add_trace(go.Scatter(x=ax, y=ay, mode='lines', line=dict(color='#8a2be2', width=1, dash='4px,3px')), row=r, col=c)
    # matplotlib style 6 arm asterisk from the two 3 arm symbols
    for sym in ['y-up-open', 'y-down-open']:
        fig.add_trace(go.Scatter(x=ax, y=ay, mode='markers',
                                 marker=dict(symbol=sym, size=12, color=list(range(len(ax))), colorscale=PURPLES,
                                             showscale=False, line=dict(width=3.4))), row=r, col=c)
    fig.add_trace(go.Scatter(x=p['purple'][0], y=p['purple'][1], mode='lines', line=dict(color='#8a2be2', width=4, shape='spline')), row=r, col=c)
    fig.add_trace(go.Scatter(x=p['orange'][0], y=p['orange'][1], mode='lines', line=dict(color='#ff4500', width=4, shape='spline')), row=r, col=c)
    hor, hpu = p['heads']
    fig.add_trace(go.Scatter(x=[hpu[0]], y=[hpu[1]], mode='markers', marker=dict(symbol='triangle-up', size=25, color='#8a2be2', angle=hpu[2], line=dict(width=0))), row=r, col=c)
    fig.add_trace(go.Scatter(x=[hor[0]], y=[hor[1]], mode='markers', marker=dict(symbol='triangle-up', size=25, color='#ff4500', angle=hor[2], line=dict(width=0))), row=r, col=c)
    fig.add_trace(go.Scatter(x=[p['cross'][0]], y=[p['cross'][1]], mode='markers', marker=dict(symbol='x-thin-open', size=16, color='#000000', line=dict(width=6))), row=r, col=c)
    fig.add_trace(go.Scatter(x=[p['cross'][0]], y=[p['cross'][1]], mode='markers', marker=dict(symbol='x-thin-open', size=16, color='#ff4500', line=dict(width=1.5))), row=r, col=c)

    big_ticks = r < 3
    common = dict(showline=True, mirror=True, linecolor='black', linewidth=3, showgrid=False, zeroline=False,
                  tickcolor='black', tickformat='.1f', dtick=.5, tick0=0)
    if big_ticks:
        common.update(ticks='inside', ticklen=15, tickwidth=3,
                      minor=dict(ticks='inside', dtick=.1, tick0=0, ticklen=9, tickwidth=2, tickcolor='black'))
    else:
        common.update(ticks='outside', ticklen=4, tickwidth=1.5)
    x0, x1 = COLS[c]
    y0, y1 = ROWS[r]
    fig.update_xaxes(row=r, col=c, range=p['xr'], domain=[x0/W, x1/W], ticklabelstandoff=-4 if big_ticks else -5,
                     tickfont=dict(family=SERIF, size=21, color='black', weight='bold'),
                     title=dict(text=p['label'], font=dict(family=SERIF, size=29, color='black', weight='bold'), standoff=0 if big_ticks else 2), **common)
    # last row has its y labels further out and a bit smaller, so the titles are placed by hand
    fig.update_yaxes(row=r, col=c, range=[-2.0,.8], domain=[1-y1/H, 1-y0/H], showticklabels=c == 1,
                     ticklabelstandoff=4 if big_ticks else 17,
                     tickfont=dict(family=SERIF, size=21 if big_ticks else 19, color='black', weight='bold'), **common)
    if c == 1:
        notes.append(dict(text=YLABEL, x=(25.5 if big_ticks else 22.5)/W, y=1-((y0+y1)/2+1)/H, xref='paper', yref='paper', textangle=-90,
                          showarrow=False, xanchor='center', yanchor='middle', font=dict(family=SERIF, size=29, color='black')))

fig.update_layout(
    width=W, height=H, showlegend=False, plot_bgcolor='white', paper_bgcolor='white',
    margin=dict(l=0, r=0, t=0, b=0, autoexpand=False),
    coloraxis=dict(cmin=0, cmax=1, colorscale=GREYS, colorbar=dict(
        orientation='h', xref='container', yref='container', x=585.5/W, xanchor='center', y=1-43/H, yanchor='top',
        xpad=0, ypad=0, lenmode='pixels', len=635, thicknessmode='pixels', thickness=30,
        outlinecolor='black', outlinewidth=2.5, ticks='outside', ticklen=4, tickwidth=1, tickcolor='black',
        tickvals=colorbar_ticks, ticktext=[f'{t:.1f}' for t in colorbar_ticks],
        tickfont=dict(family=SERIF, size=22, color='black', weight='bold'))),
    annotations=notes,
)

# the browser's default body margin would push the figure off the 1200x1602 window
fig.write_html("out.html", post_script="document.body.style.margin='0';", config={'displayModeBar': False})
